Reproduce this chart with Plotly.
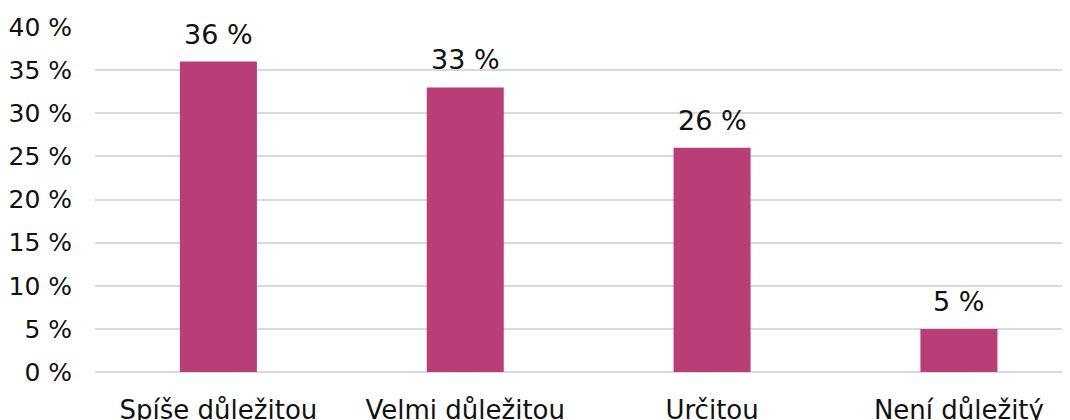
import plotly.graph_objects as go

categories = ["Spíše důležitou", "Velmi důležitou", "Určitou", "Není důležitý"]
values = [36, 33, 26, 5]
y_ticks = [0, 5, 10, 15, 20, 25, 30, 35, 40]

bar_color = "#B93E78"
grid_color = "#D9D9D9"
font_family = "DejaVu Sans"

fig = go.Figure(go.Bar(x=categories, y=values, marker_color=bar_color,
                       marker_line_width=0, width=0.312))

# value labels above the bars
for c, v in zip(categories, values):
    fig.add_annotation(x=c, y=v, text=f"{v} %", showarrow=False,
                       yanchor="bottom", yshift=10,
                       font=dict(size=27, color="#111111", family=font_family))

# page body adds 8px margin, so the figure is a bit smaller than the window
fig.update_layout(
    width=1062, height=412,
    margin=dict(l=87, r=0, t=19, b=48),
    paper_bgcolor="white", plot_bgcolor="white",
    showlegend=False,
    font=dict(family=font_family, color="#111111"),
)
fig.update_xaxes(range=[-0.5, 3.45], showgrid=False, showline=False,
                 automargin=False,
                 tickfont=dict(size=26), ticklabelstandoff=20)
fig.update_yaxes(range=[0, 40], tickvals=y_ticks,
                 ticktext=[f"{t} %" for t in y_ticks],
                 automargin=False,
                 showgrid=True, gridcolor=grid_color, gridwidth=2,
                 zeroline=True, zerolinecolor=grid_color, zerolinewidth=2,
                 tickfont=dict(size=25), ticklabelstandoff=22)

fig.write_html("out.html")
